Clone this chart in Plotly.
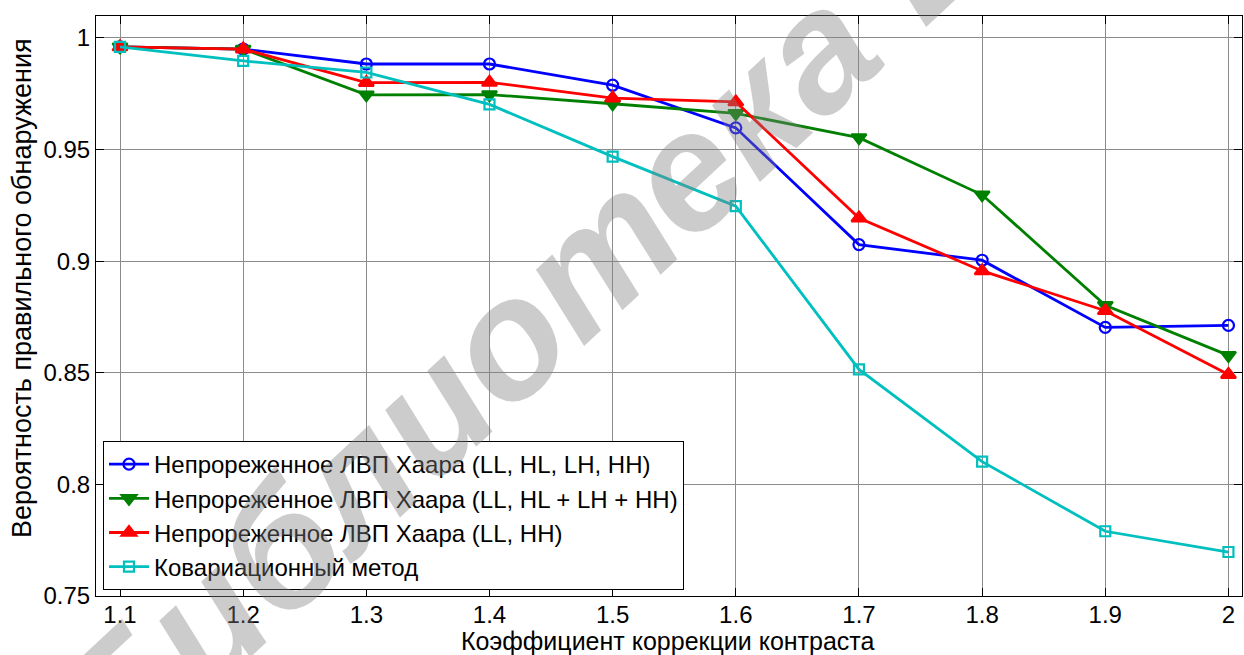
import plotly.graph_objects as go

x_vals = [1.1, 1.2, 1.3, 1.4, 1.5, 1.6, 1.7, 1.8, 1.9, 2.0]
haar_all = [0.996, 0.995, 0.9883, 0.9883, 0.9788, 0.9597, 0.9074, 0.9004, 0.8703, 0.8712]
haar_sum = [0.996, 0.995, 0.9745, 0.9746, 0.9705, 0.9662, 0.9553, 0.9297, 0.8802, 0.8578]
haar_llhh = [0.996, 0.995, 0.9800, 0.9801, 0.9730, 0.9713, 0.9193, 0.8956, 0.8778, 0.8492]
covar = [0.996, 0.9897, 0.9845, 0.9702, 0.9468, 0.9246, 0.8515, 0.8102, 0.7790, 0.7697]

names = [
    "Непрореженное ЛВП Хаара (LL, HL, LH, HH)",
    "Непрореженное ЛВП Хаара (LL, HL + LH + HH)",
    "Непрореженное ЛВП Хаара (LL, HH)",
    "Ковариационный метод",
]
x_ticks = [1.1, 1.2, 1.3, 1.4, 1.5, 1.6, 1.7, 1.8, 1.9, 2.0]
x_tick_text = ["1.1", "1.2", "1.3", "1.4", "1.5", "1.6", "1.7", "1.8", "1.9", "2"]
y_ticks = [0.75, 0.8, 0.85, 0.9, 0.95, 1.0]
y_tick_text = ["0.75", "0.8", "0.85", "0.9", "0.95", "1"]
x_title = "Коэффициент коррекции контраста"
y_title = "Вероятность правильного обнаружения"
watermark = "Библиотека БГУИР"

series = [haar_all, haar_sum, haar_llhh, covar]
colors = ["#0000FF", "#008000", "#FF0000", "#00BFBF"]
symbols = ["circle-open", "triangle-down", "triangle-up", "square-open"]
msizes = [11, 13, 13, 10]

FONT = "Liberation Sans, Arial, sans-serif"
W, H = 1244, 655
L, R, T, B = 96, 2, 16, 59
PW, PH = W - L - R, H - T - B


def px(xp):
    return (xp - L) / PW


def py(yp):
    return (H - B - yp) / PH


fig = go.Figure()
for ys, nm, c, s, ms in zip(series, names, colors, symbols, msizes):
    fig.add_trace(go.Scatter(
        x=x_vals, y=ys, name=nm, mode="lines+markers",
        line=dict(color=c, width=2.8),
        marker=dict(symbol=s, size=ms, color=c, line=dict(color=c, width=2.2)),
    ))

axis_common = dict(
    showline=True, linecolor="black", linewidth=1, mirror="ticks",
    ticks="inside", ticklen=8, tickcolor="black",
    showgrid=True, gridcolor="#8c8c8c", gridwidth=1, zeroline=False,
    tickfont=dict(family=FONT, size=24, color="black"),
)

fig.update_xaxes(range=[1.0805, 2.011], tickvals=x_ticks, ticktext=x_tick_text,
                 ticklabelstandoff=-3, **axis_common)
fig.update_yaxes(range=[0.75, 1.0098], tickvals=y_ticks, ticktext=y_tick_text,
                 **axis_common)

fig.update_layout(
    width=W, height=H,
    margin=dict(l=L, r=R, t=T, b=B),
    paper_bgcolor="white", plot_bgcolor="white",
    font=dict(family=FONT, size=24, color="black"),
    showlegend=True,
    legend=dict(
        x=px(103), y=py(590), xanchor="left", yanchor="bottom",
        bgcolor="white", bordercolor="black", borderwidth=1,
        font=dict(family=FONT, size=24, color="black"),
        tracegroupgap=0, itemwidth=40,
    ),
    annotations=[
        dict(text=x_title, xref="paper", yref="paper", x=px(668), y=py(641),
             xanchor="center", yanchor="middle", showarrow=False,
             font=dict(family=FONT, size=25, color="black")),
        dict(text=y_title, xref="paper", yref="paper", x=px(22), y=py(288),
             xanchor="center", yanchor="middle", showarrow=False, textangle=-90,
             font=dict(family=FONT, size=27, color="black")),
        dict(text="<b><i>" + watermark + "</i></b>", xref="paper", yref="paper",
             x=px(690), y=py(168),
             xanchor="center", yanchor="middle", showarrow=False,
             textangle=-43,
             font=dict(family=FONT, size=168, color="rgba(128,128,128,0.4)")),
    ],
)

fig.write_html("out.html", config={"displayModeBar": False},
               post_script="document.body.style.margin='0';")
